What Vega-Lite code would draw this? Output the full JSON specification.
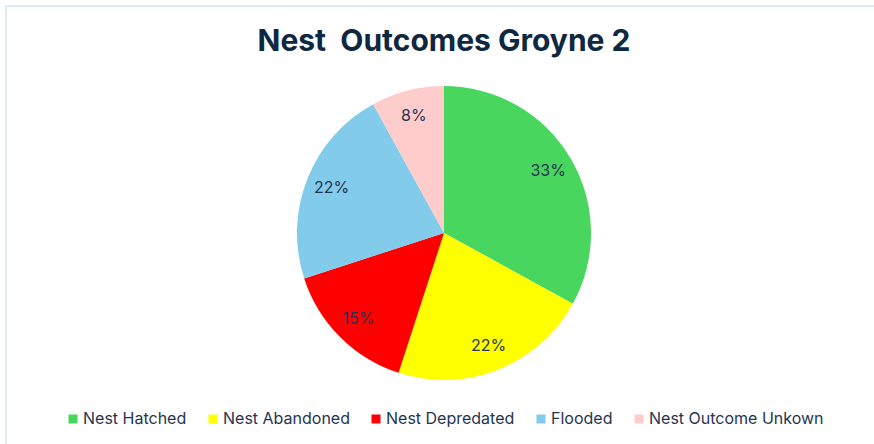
{
  "$schema": "https://vega.github.io/schema/vega-lite/v6.json",
  "autosize": "none",
  "width": 876,
  "height": 454,
  "padding": {"left": 6, "top": 6, "right": 0, "bottom": 0},
  "background": "white",
  "title": {
    "text": "Nest\u00a0 Outcomes Groyne 2",
    "anchor": "middle",
    "font": "Inter",
    "fontSize": 30,
    "fontWeight": "bold",
    "color": "#0e2841",
    "baseline": "alphabetic",
    "offset": -76
  },
  "data": {
    "values": [
      {"outcome": "Nest Hatched", "share": 0.33, "rank": 1},
      {"outcome": "Nest Abandoned", "share": 0.22, "rank": 2},
      {"outcome": "Nest Depredated", "share": 0.15, "rank": 3},
      {"outcome": "Flooded", "share": 0.22, "rank": 4},
      {"outcome": "Nest Outcome Unkown", "share": 0.08, "rank": 5}
    ]
  },
  "layer": [
    {
      "data": {"values": [{"frame": "chart area"}]},
      "mark": {"type": "rect", "fill": null, "fillOpacity": 0, "stroke": "#d6e4f5", "strokeWidth": 1.5},
      "encoding": {}
    },
    {
      "mark": {"type": "arc", "outerRadius": 147},
      "encoding": {
        "theta": {"field": "share", "type": "quantitative", "stack": true},
        "order": {"field": "rank", "type": "quantitative"},
        "color": {
          "field": "outcome",
          "type": "nominal",
          "sort": null,
          "scale": {
            "domain": ["Nest Hatched", "Nest Abandoned", "Nest Depredated", "Flooded", "Nest Outcome Unkown"],
            "range": ["#48d65e", "#ffff00", "#ff0000", "#83cbeb", "#ffcccc"]
          },
          "legend": {
            "title": null,
            "orient": "none",
            "direction": "horizontal",
            "legendX": 59,
            "legendY": 405,
            "symbolType": "square",
            "symbolSize": 81,
            "symbolStrokeWidth": 0,
            "labelFont": "Inter",
            "labelFontSize": 16,
            "labelColor": "#1f3550",
            "labelOffset": 2,
            "labelLimit": 0,
            "columnPadding": 18,
            "padding": 0
          }
        }
      }
    },
    {
      "mark": {"type": "text", "radius": 121, "font": "Inter", "fontSize": 16, "color": "#1f3550"},
      "encoding": {
        "theta": {"field": "share", "type": "quantitative", "stack": true},
        "order": {"field": "rank", "type": "quantitative"},
        "text": {"field": "share", "type": "quantitative", "format": ".0%"}
      }
    }
  ],
  "config": {
    "view": {"stroke": null}
  }
}
